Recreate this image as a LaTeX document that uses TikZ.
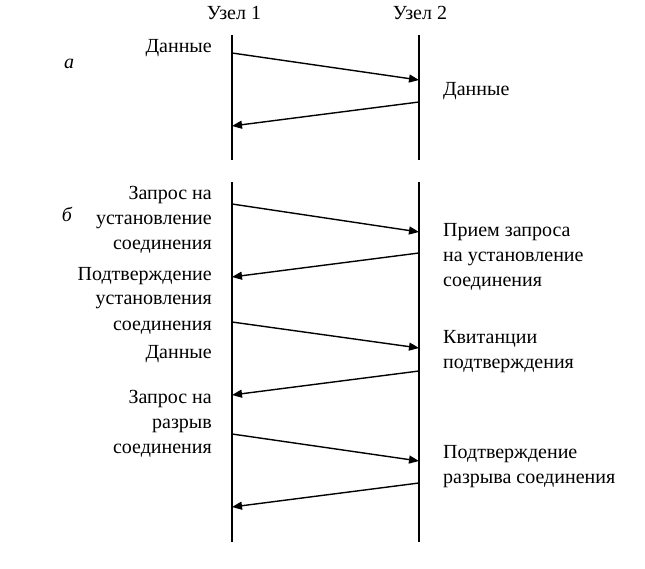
\documentclass[tikz,border=0pt]{standalone}
\usepackage{fontspec}
\setmainfont{Liberation Serif}
\usetikzlibrary{arrows.meta}
\begin{document}
\begin{tikzpicture}[x=1pt,y=-1pt,
  lbl/.style={inner sep=0pt,font=\fontsize{20}{25}\selectfont},
  lleft/.style={lbl,anchor=base east,align=right},
  lright/.style={lbl,anchor=base west,align=left},
  life/.style={line width=1.6pt},
  msg/.style={line width=1.4pt,-{Triangle[length=10pt,width=8pt]}}]
\useasboundingbox (0,0) rectangle (645,569);
% headers
\node[lbl,anchor=base] (h1) at (234,20) {Узел 1};
\node[lbl,anchor=base] (h2) at (420,20) {Узел 2};
% section labels
\node[lbl,font=\fontsize{20}{25}\selectfont\itshape] (sa) at (69,64) {а};
\node[lbl,font=\fontsize{20}{25}\selectfont\itshape] (sb) at (67,214) {б};
% lifelines
\coordinate (t1) at (232,35); \coordinate (u1) at (232,160);
\coordinate (t2) at (419,35); \coordinate (u2) at (419,160);
\coordinate (v1) at (232,182); \coordinate (w1) at (232,542);
\coordinate (v2) at (419,182); \coordinate (w2) at (419,542);
\draw[life] (t1) -- (u1);
\draw[life] (t2) -- (u2);
\draw[life] (v1) -- (w1);
\draw[life] (v2) -- (w2);
% message endpoints
\coordinate (a1) at (232,53);  \coordinate (a2) at (419,80);
\coordinate (a3) at (419,102); \coordinate (a4) at (232,126);
\coordinate (b1) at (232,204); \coordinate (b2) at (419,232);
\coordinate (b3) at (419,253); \coordinate (b4) at (232,277);
\coordinate (b5) at (232,322); \coordinate (b6) at (419,348);
\coordinate (b7) at (419,371); \coordinate (b8) at (232,395);
\coordinate (b9) at (232,434); \coordinate (b10) at (419,461);
\coordinate (b11) at (419,483); \coordinate (b12) at (232,507);
\draw[msg] (a1) -- (a2);
\draw[msg] (a3) -- (a4);
\draw[msg] (b1) -- (b2);
\draw[msg] (b3) -- (b4);
\draw[msg] (b5) -- (b6);
\draw[msg] (b7) -- (b8);
\draw[msg] (b9) -- (b10);
\draw[msg] (b11) -- (b12);
% labels (base anchor = baseline of the last line)
\node[lleft] (l1) at (212,53) {Данные};
\node[lright] (r1) at (443,96) {Данные};
\node[lleft] (l2) at (212,250) {Запрос на\\установление\\соединения};
\node[lleft] (l3) at (212,330) {Подтверждение\\установления\\соединения};
\node[lleft] (l4) at (212,358) {Данные};
\node[lleft] (l5) at (212,453) {Запрос на\\разрыв\\соединения};
\node[lright] (r2) at (443,287) {Прием запроса\\на установление\\соединения};
\node[lright] (r3) at (443,368) {Квитанции\\подтверждения};
\node[lright] (r4) at (443,483) {Подтверждение\\разрыва соединения};
\end{tikzpicture}
\end{document}
